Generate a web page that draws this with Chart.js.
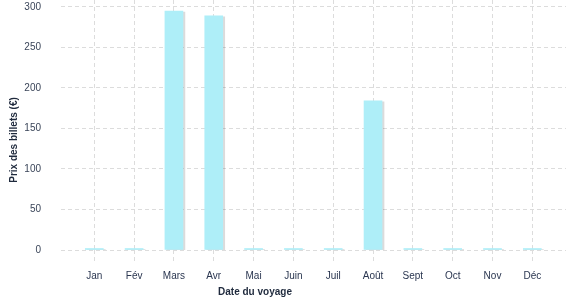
<!DOCTYPE html>
<html>
<head>
<meta charset="utf-8">
<script src="https://cdn.jsdelivr.net/npm/chart.js@4/dist/chart.umd.min.js"></script>
<style>
  html, body { margin: 0; padding: 0; background: #ffffff; }
  #wrap { width: 577px; height: 300px; position: relative; }
</style>
</head>
<body>
<div id="wrap"><canvas id="c" width="577" height="300"></canvas></div>
<script>
const months = ["Jan", "Fév", "Mars", "Avr", "Mai", "Juin", "Juil", "Août", "Sept", "Oct", "Nov", "Déc"];
const prices = [0, 0, 295, 289, 0, 0, 0, 184, 0, 0, 0, 0];
const yTicks = [0, 50, 100, 150, 200, 250, 300];
const xTitle = "Date du voyage";
const yTitle = "Prix des billets (€)";

const FONT = "'Liberation Sans', Arial, sans-serif";
const GRID = "#dcdcdc";
const Y_MAX = 308.6;

const shadowPlugin = {
  id: 'barShadow',
  beforeDatasetsDraw(chart) {
    const ctx = chart.ctx;
    ctx.save();
    ctx.shadowColor = 'rgba(0,0,0,0.14)';
    ctx.shadowOffsetX = 2;
    ctx.shadowOffsetY = 1;
    ctx.shadowBlur = 0;
  },
  afterDatasetsDraw(chart) {
    chart.ctx.restore();
  }
};

const titlePlugin = {
  id: 'axisTitles',
  afterDraw(chart) {
    const ctx = chart.ctx;
    ctx.save();
    ctx.fillStyle = '#1f2a3d';
    ctx.font = "bold 10px " + FONT;
    ctx.textAlign = 'center';
    ctx.textBaseline = 'middle';
    ctx.fillText(xTitle, 255, 292);
    ctx.translate(14, 140);
    ctx.rotate(-Math.PI / 2);
    ctx.fillText(yTitle, 0, 0);
    ctx.restore();
  }
};

new Chart(document.getElementById('c'), {
  type: 'bar',
  data: {
    datasets: [{
      data: prices.map((v, i) => ({ x: i, y: v })),
      backgroundColor: '#aeeef8',
      borderWidth: 0,
      barThickness: 18,
      minBarLength: 1.5
    }]
  },
  plugins: [shadowPlugin, titlePlugin],
  options: {
    responsive: false,
    animation: false,
    layout: { padding: { left: 0, right: 11, top: 0, bottom: 0 } },
    plugins: { legend: { display: false }, tooltip: { enabled: false } },
    scales: {
      x: {
        type: 'linear',
        offset: false,
        min: -0.836,
        max: 11.846,
        afterBuildTicks(scale) {
          scale.ticks = months.map((m, i) => ({ value: i }));
          scale.min = -0.836; scale.max = 11.846;
        },
        afterFit(scale) { scale.height = 50; },
        border: { display: false, dash: [4, 3] },
        grid: {
          offset: false,
          color: GRID,
          lineWidth: 1,
          tickLength: 12,
          tickColor: GRID,
          tickBorderDash: [4, 3],
          drawTicks: true
        },
        ticks: {
          padding: 8,
          maxRotation: 0,
          autoSkip: false,
          color: '#2a3650',
          font: { family: FONT, size: 10 },
          callback: (v) => months[v]
        }
      },
      y: {
        min: 0,
        max: Y_MAX,
        bounds: 'data',
        afterBuildTicks(scale) {
          scale.ticks = yTicks.map(v => ({ value: v }));
          scale.min = 0; scale.max = Y_MAX;
        },
        afterFit(scale) { scale.width = 61; scale.paddingTop = 0; scale.paddingBottom = 0; },
        border: { display: false, dash: [4, 3] },
        grid: { color: GRID, lineWidth: 1, drawTicks: false },
        ticks: {
          padding: 20,
          color: '#3a4559',
          font: { family: FONT, size: 10 }
        }
      }
    }
  }
});
</script>
</body>
</html>
